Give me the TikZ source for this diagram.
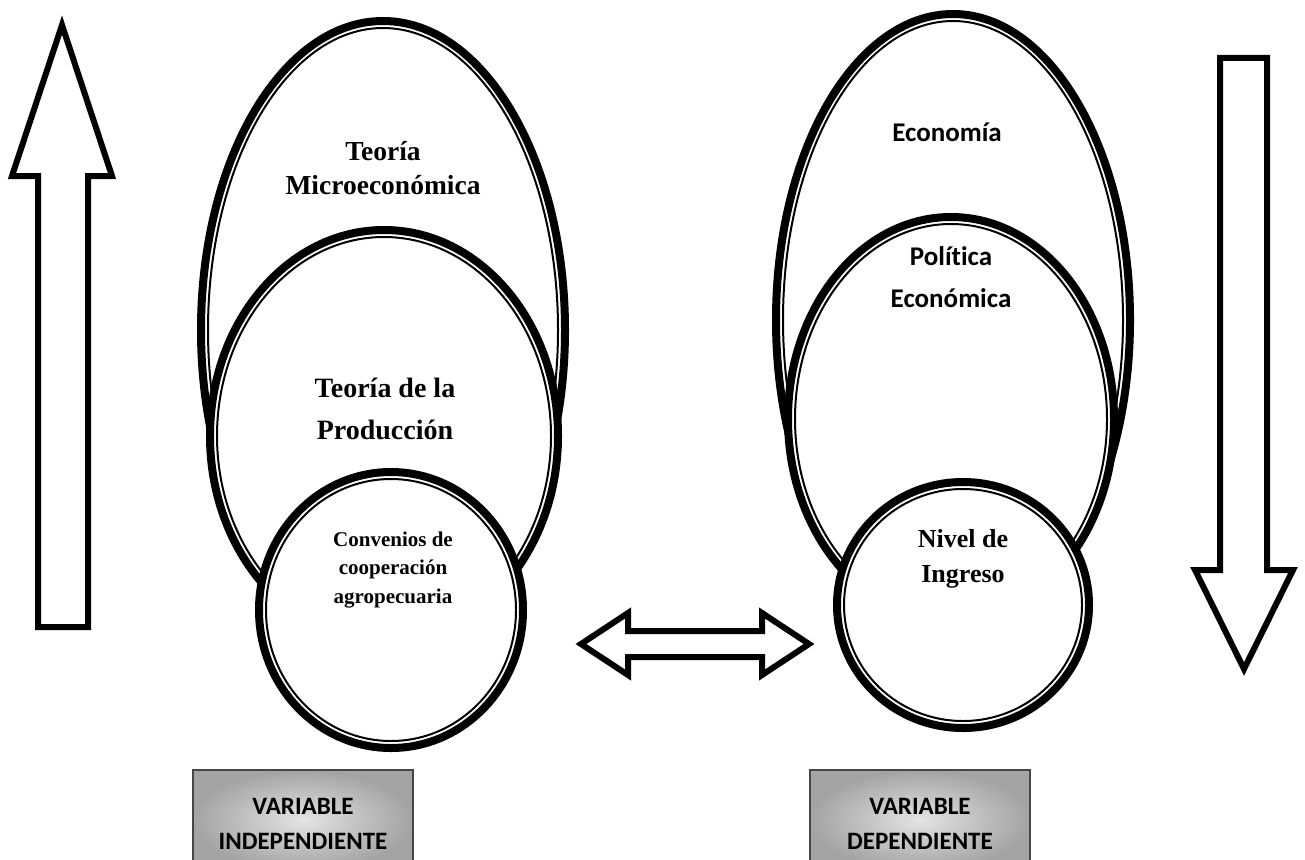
\documentclass[tikz,border=0pt]{standalone}
\usepackage{fontspec}
\setmainfont{Liberation Serif}
\newfontfamily\calib[Ligatures=NoCommon]{Carlito}
\usetikzlibrary{shapes.geometric}
\tikzset{
  outerell/.style={ellipse, draw=black, fill=white, line width=8pt, inner sep=0pt},
  innerell/.style={ellipse, draw=black, line width=2pt, inner sep=0pt},
  serifbig/.style={align=center, font=\bfseries\fontsize{27.5}{34}\selectfont},
  calbig/.style={align=center, font=\calib\bfseries\fontsize{27}{42}\selectfont},
  bigarrow/.style={draw=black, fill=white, line width=6pt, miter limit=20, line join=miter},
  varbox/.style={rectangle, draw=gray!55!black, line width=2.5pt, minimum width=220pt, minimum height=100pt,
     shading=radial, inner color=gray!22, outer color=gray!72},
  boxtext/.style={align=center, font=\calib\bfseries\fontsize{25}{35}\selectfont},
}
\newcommand\ringnode[5]{%
  \node[outerell, minimum width={2*#4-8}, minimum height={2*#5-8}] (#1) at (#2,#3) {};
  \node[innerell, minimum width={2*#4-22}, minimum height={2*#5-22}] (#1in) at (#2,#3) {};
}
\begin{document}
\begin{tikzpicture}[x=1pt,y=-1pt]
\fill[white] (0,0) rectangle (1305,859);
\useasboundingbox (0,0) rectangle (1305,859);

% left group
\ringnode{micro}{383}{330}{186}{313}
\ringnode{prod}{384}{436}{178}{210}
\ringnode{conv}{391}{610}{136}{142}
% right group
\ringnode{eco}{953}{320}{181}{310}
\ringnode{pol}{951}{419}{167}{206}
\ringnode{niv}{963}{605}{130}{127}

% texts
\node[serifbig] (tmicro) at (383,168) {Teoría\\Microeconómica};
\node[serifbig, font=\bfseries\fontsize{28}{42}\selectfont] (tprod) at (385,409) {Teoría de la\\Producción};
\node[align=center, font=\bfseries\fontsize{21}{28.5}\selectfont] (tconv) at (393,570) {Convenios de\\cooperación\\agropecuaria};
\node[calbig] (teco) at (947,132) {Economía};
\node[calbig] (tpol) at (951,277) {Política\\Económica};
\node[serifbig, font=\bfseries\fontsize{26}{35}\selectfont] (tniv) at (963,559) {Nivel de\\Ingreso};

% arrows
\draw[bigarrow] (38,627) -- (38,176) -- (12,176) -- (62,25) -- (112,176) -- (88,176) -- (88,627) -- cycle;
\draw[bigarrow] (1220,58) -- (1220,570) -- (1195,570) -- (1244,669) -- (1293,570) -- (1267,570) -- (1267,58) -- cycle;
\draw[bigarrow] (581,644) -- (628,613) -- (628,631) -- (762,631) -- (762,613) -- (809,644)
   -- (762,675) -- (762,657) -- (628,657) -- (628,675) -- cycle;

% boxes
\node[varbox] (vind) at (303,820) {};
\node[boxtext] (vindt) at (303,824) {VARIABLE\\INDEPENDIENTE};
\node[varbox] (vdep) at (920,820) {};
\node[boxtext] (vdept) at (920,824) {VARIABLE\\DEPENDIENTE};
\end{tikzpicture}
\end{document}
